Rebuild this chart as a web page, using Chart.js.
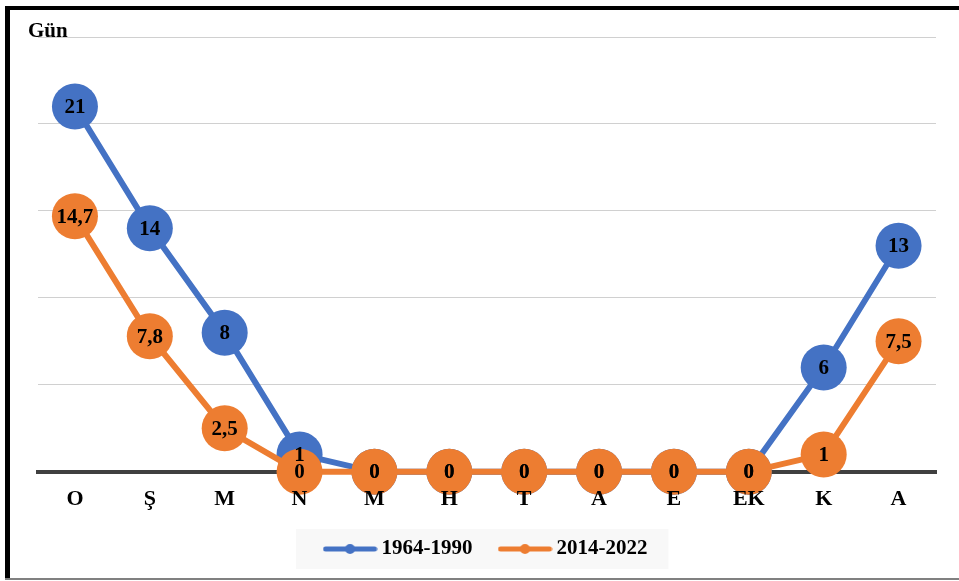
<!DOCTYPE html>
<html>
<head>
<meta charset="utf-8">
<script src="https://cdn.jsdelivr.net/npm/chart.js@4"></script>
<style>
  html, body { margin: 0; padding: 0; background: #fff; }
  #wrap { position: relative; width: 959px; height: 581px; overflow: hidden; }
  #chart { position: absolute; left: 0; top: 0; }
  .edgeL { position: absolute; left: 5px; top: 6px; width: 5px; height: 574px; background: #000; }
  .edgeT { position: absolute; left: 5px; top: 6px; width: 954px; height: 4px; background: #000; }
  .edgeB { position: absolute; left: 5px; top: 578px; width: 954px; height: 2px; background: #808080; }
  #unit { position: absolute; left: 28px; top: 18px; font: bold 21px "Liberation Serif", serif; color: #000; }
</style>
</head>
<body>
<div id="wrap">
  <canvas id="chart" width="959" height="581"></canvas>
  <div class="edgeL"></div>
  <div class="edgeT"></div>
  <div class="edgeB"></div>
  <div id="unit">Gün</div>
</div>
<script>
var aylar = ["O", "Ş", "M", "N", "M", "H", "T", "A", "E", "EK", "K", "A"];
var donem1 = [21, 14, 8, 1, 0, 0, 0, 0, 0, 0, 6, 13];
var donem2 = [14.7, 7.8, 2.5, 0, 0, 0, 0, 0, 0, 0, 1, 7.5];
var seriAdlari = ["1964-1990", "2014-2022"];
var renkler = ["#4472C4", "#ED7D31"];
var yaziTipi = "'Liberation Serif', serif";

// legend symbol: line with a dot
function legendMark(color) {
  var c = document.createElement("canvas");
  c.width = 55; c.height = 12;
  var g = c.getContext("2d");
  g.strokeStyle = color; g.lineWidth = 5; g.lineCap = "round";
  g.beginPath(); g.moveTo(3, 6); g.lineTo(52, 6); g.stroke();
  g.fillStyle = color;
  g.beginPath(); g.arc(27.5, 6, 5, 0, Math.PI * 2); g.fill();
  return c;
}

var etiketler = {
  id: "etiketler",
  beforeDraw: function(chart) {
    var boxes = chart.legend && chart.legend.legendHitBoxes;
    if (!boxes || !boxes.length) return;
    var l = Infinity, r = -Infinity, t = Infinity, b = -Infinity;
    boxes.forEach(function(h) {
      l = Math.min(l, h.left); r = Math.max(r, h.left + h.width);
      t = Math.min(t, h.top); b = Math.max(b, h.top + h.height);
    });
    var cy = (t + b) / 2;
    var ctx = chart.ctx;
    ctx.save();
    ctx.fillStyle = "#f8f8f8";
    ctx.fillRect(l - 33, cy - 20, r - l + 54, 40);
    ctx.restore();
  },
  afterDatasetsDraw: function(chart) {
    var ctx = chart.ctx;
    ctx.save();
    ctx.fillStyle = "#000";
    ctx.textAlign = "center";
    ctx.textBaseline = "middle";
    ctx.font = "bold 21px " + yaziTipi;
    chart.data.datasets.forEach(function(ds, i) {
      var meta = chart.getDatasetMeta(i);
      meta.data.forEach(function(pt, j) {
        var txt = String(ds.data[j]).replace(".", ",");
        ctx.fillText(txt, pt.x, pt.y + 1);
      });
    });
    // month labels on top of the markers
    var sx = chart.scales.x;
    ctx.font = "bold 22px " + yaziTipi;
    aylar.forEach(function(a, i) {
      ctx.fillText(a, sx.getPixelForValue(i), chart.chartArea.bottom + 28);
    });
    ctx.restore();
  }
};

var ctx = document.getElementById("chart").getContext("2d");
new Chart(ctx, {
  type: "line",
  data: {
    labels: aylar,
    datasets: [
      {
        label: seriAdlari[0],
        data: donem1,
        borderColor: renkler[0],
        backgroundColor: renkler[0],
        borderWidth: 6,
        pointRadius: 23,
        pointHoverRadius: 23,
        pointBorderWidth: 0,
        tension: 0,
        clip: false,
        order: 2
      },
      {
        label: seriAdlari[1],
        data: donem2,
        borderColor: renkler[1],
        backgroundColor: renkler[1],
        borderWidth: 6,
        pointRadius: 23,
        pointHoverRadius: 23,
        pointBorderWidth: 0,
        tension: 0,
        clip: false,
        order: 1
      }
    ]
  },
  options: {
    responsive: false,
    animation: false,
    layout: { padding: { left: 37.5, right: 20, top: 37, bottom: 11.5 } },
    plugins: {
      tooltip: { enabled: false },
      legend: {
        position: "bottom",
        labels: {
          usePointStyle: true,
          pointStyleWidth: 42,
          padding: 31.5,
          color: "#000",
          font: { family: yaziTipi, size: 21, weight: "bold" },
          sort: function(a, b) { return a.datasetIndex - b.datasetIndex; },
          generateLabels: function(chart) {
            return chart.data.datasets.map(function(ds, i) {
              return {
                text: ds.label,
                pointStyle: legendMark(renkler[i]),
                fillStyle: renkler[i],
                strokeStyle: renkler[i],
                lineWidth: 0,
                datasetIndex: i,
                fontColor: "#000"
              };
            });
          }
        }
      }
    },
    scales: {
      x: {
        offset: true,
        grid: { display: false, drawTicks: false },
        border: { display: true, color: "#404040", width: 4 },
        ticks: {
          padding: 8,
          color: "rgba(0,0,0,0)",
          font: { family: yaziTipi, size: 16, weight: "bold" }
        }
      },
      y: {
        min: 0,
        max: 25,
        ticks: { display: false, stepSize: 5 },
        grid: { color: "#d0d0d0", lineWidth: 1, drawTicks: false },
        border: { display: false }
      }
    }
  },
  plugins: [etiketler]
});
</script>
</body>
</html>
